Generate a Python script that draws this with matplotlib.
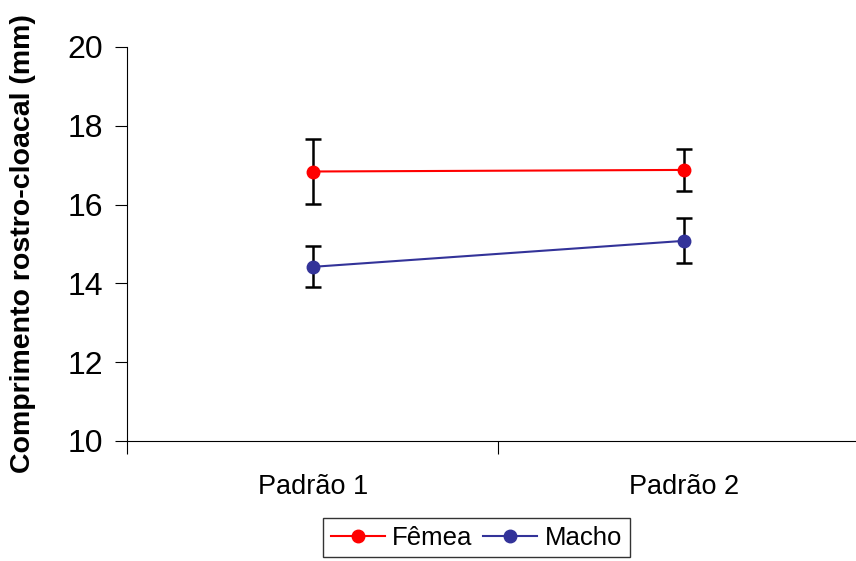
import matplotlib.pyplot as plt
from matplotlib.lines import Line2D

# data
categories = ['Padrão 1', 'Padrão 2']
femea = [16.84, 16.88]
femea_err = [0.83, 0.54]
macho = [14.42, 15.08]
macho_err = [0.52, 0.57]

plt.rcParams['font.family'] = ['Liberation Sans', 'DejaVu Sans']

W, H = 856, 561
fig = plt.figure(figsize=(W / 100, H / 100), dpi=100)
left, bottom, top = 127, 441, 47
ax = fig.add_axes([left / W, 1 - bottom / H, 1 - left / W, (bottom - top) / H])

xs = [0.5, 1.5]
ax.errorbar(xs, femea, yerr=femea_err, color='#FF0000', lw=1.5, marker='o', ms=9,
            ecolor='black', elinewidth=1.8, capsize=6, capthick=1.8, zorder=3)
ax.errorbar(xs, macho, yerr=macho_err, color='#333399', lw=1.5, marker='o', ms=9,
            ecolor='black', elinewidth=1.8, capsize=6, capthick=1.8, zorder=3)

ax.set_ylim(10, 20)
ax.set_yticks(range(10, 21, 2))
ax.set_xlim(0, (W - left) / 371.4)
ax.set_xticks([0, 1])
ax.set_xticklabels([])
ax.set_xticks(xs, minor=True)
ax.set_xticklabels(categories, minor=True, fontsize=19.5)
ax.tick_params(axis='x', which='minor', length=0, pad=24)
ax.tick_params(axis='x', which='major', length=9, width=0.8, direction='out')
ax.tick_params(axis='y', length=9, width=0.8, labelsize=23, pad=8)

for s in ['top', 'right']:
    ax.spines[s].set_visible(False)
for s in ['left', 'bottom']:
    ax.spines[s].set_linewidth(0.8)

ax.set_ylabel('Comprimento rostro-cloacal (mm)', fontsize=20.5, fontweight='bold')
ax.yaxis.set_label_coords(-(left - 36) / (W - left), 0.5)

handles = [Line2D([], [], color='#FF0000', lw=1.5, marker='o', ms=9),
           Line2D([], [], color='#333399', lw=1.5, marker='o', ms=9)]
leg = fig.legend(handles, ['Fêmea', 'Macho'], loc='upper left',
                 bbox_to_anchor=(323 / W, 1 - 518 / H), ncol=2,
                 fontsize=18.5, frameon=True, fancybox=False, edgecolor='black',
                 handlelength=2.1, columnspacing=0.4, handletextpad=0.3,
                 borderpad=0.3, borderaxespad=0)
leg.get_frame().set_linewidth(1)

fig.savefig('out.png', dpi=100)
